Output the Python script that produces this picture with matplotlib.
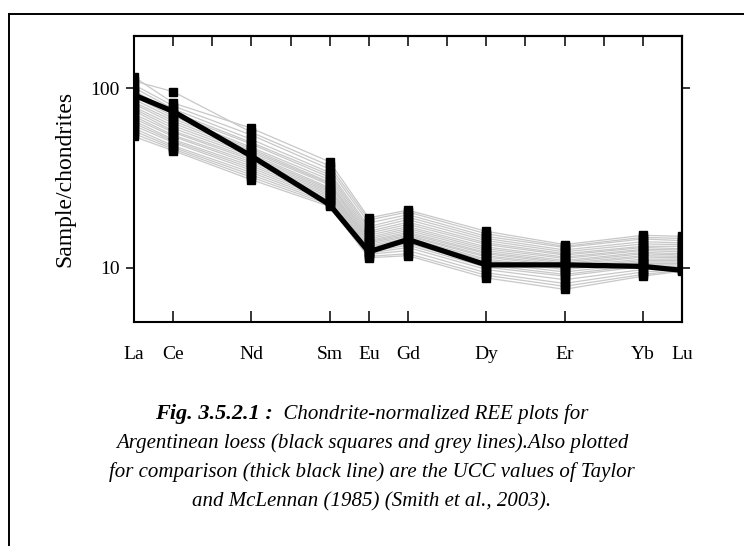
import matplotlib

matplotlib.use("Agg")
import matplotlib.pyplot as plt
import numpy as np
from matplotlib.lines import Line2D


# full REE series sets the x spacing; only some are analysed
REE_SERIES = ["La", "Ce", "Pr", "Nd", "Pm", "Sm", "Eu", "Gd", "Tb", "Dy", "Ho", "Er", "Tm", "Yb", "Lu"]
ELEMENTS = ["La", "Ce", "Nd", "Sm", "Eu", "Gd", "Dy", "Er", "Yb", "Lu"]

# UCC (Taylor & McLennan 1985), chondrite normalised
UCC = [92, 74.5, 42, 22.5, 12.3, 14.4, 10.4, 10.4, 10.2, 9.7]

# Argentinean loess samples, chondrite normalised
LOESS_SAMPLES = [
    [116, 83, 60, 39, 19.0, 21.0, 16.0, 13.5, 15.2, 15.0],
    [110, 96, 57, 37, 18.5, 20.5, 15.5, 13.2, 14.8, 14.6],
    [105, 80, 55, 35.5, 17.8, 19.8, 15.0, 13.0, 14.5, 14.2],
    [101, 77, 52, 34, 17.0, 19.2, 14.6, 12.6, 14.0, 13.8],
    [97, 74, 50, 33, 16.5, 18.6, 14.2, 12.3, 13.6, 13.5],
    [94, 72, 49, 32, 16.0, 18.0, 13.8, 12.0, 13.2, 13.2],
    [90, 70, 47, 31, 15.6, 17.5, 13.5, 11.8, 13.0, 12.8],
    [87, 68, 46, 30, 15.2, 17.0, 13.1, 11.5, 12.7, 12.6],
    [84, 66, 45, 29.5, 14.8, 16.6, 12.8, 11.3, 12.5, 12.3],
    [82, 64, 44, 29, 14.5, 16.2, 12.5, 11.0, 12.2, 12.0],
    [79, 62, 43, 28, 14.2, 15.8, 12.2, 10.8, 12.0, 11.8],
    [77, 60, 42, 27.5, 14.0, 15.5, 12.0, 10.6, 11.7, 11.6],
    [75, 58, 41, 27, 13.8, 15.2, 11.7, 10.4, 11.5, 11.4],
    [72, 57, 40, 26.5, 13.5, 15.0, 11.5, 10.2, 11.2, 11.2],
    [70, 55, 39, 26, 13.2, 14.7, 11.2, 10.0, 11.0, 11.0],
    [68, 54, 38, 25.5, 13.0, 14.4, 11.0, 9.8, 10.8, 10.8],
    [66, 52, 37, 25, 12.8, 14.0, 10.7, 9.5, 10.6, 10.6],
    [64, 51, 36, 24.5, 12.5, 13.7, 10.4, 9.2, 10.4, 10.4],
    [62, 50, 35, 24, 12.3, 13.4, 10.1, 9.0, 10.2, 10.2],
    [60, 48, 34, 23.5, 12.1, 13.0, 9.8, 8.6, 9.8, 10.0],
    [58, 47, 33, 23, 11.9, 12.5, 9.4, 8.2, 9.5, 9.8],
    [56, 46, 32, 22.5, 11.6, 12.0, 9.1, 7.9, 9.2, 9.7],
    [54, 45, 31, 22, 11.4, 11.7, 8.8, 7.6, 9.0, 9.6],
]

Y_TICKS = [10, 100]

CAPTION_HEAD = "Fig. 3.5.2.1 :"
CAPTION_LINES = [
    "Chondrite-normalized REE plots for",
    "Argentinean loess (black squares and grey lines).Also plotted",
    "for comparison (thick black line) are the UCC values of Taylor",
    "and McLennan (1985) (Smith et al., 2003).",
]


def apply_plot_style() -> None:
    plt.rcParams.update(
        {
            "font.family": "serif",
            "font.serif": ["Liberation Serif", "DejaVu Serif"],
            "font.size": 14,
            "axes.linewidth": 1.5,
        }
    )


def draw_chart(ax: plt.Axes) -> None:
    x = np.array([REE_SERIES.index(el) for el in ELEMENTS], dtype=float)
    samples = np.array(LOESS_SAMPLES, dtype=float)

    for row in samples:
        ax.plot(x, row, color="#c8c8c8", lw=0.9, zorder=2)
    for row in samples:
        ax.plot(x, row, ls="none", marker="s", ms=5.2, color="black", mec="black", zorder=3)
    ax.plot(x, UCC, color="black", lw=3.8, solid_joinstyle="miter", zorder=4)

    ax.set_yscale("log")
    ax.set_xlim(0, len(REE_SERIES) - 1)
    ax.set_ylim(5.0, 196)
    ax.set_yticks(Y_TICKS)
    ax.set_yticklabels([str(v) for v in Y_TICKS])
    ax.yaxis.set_minor_locator(matplotlib.ticker.NullLocator())
    ax.set_ylabel("Sample/chondrites", fontsize=17, labelpad=11)

    ax.set_xticks(x)
    ax.set_xticklabels(ELEMENTS)
    ax.tick_params(axis="x", direction="in", length=8, width=1.1, pad=17, labelsize=14)
    ax.tick_params(axis="y", direction="out", length=6, width=1.1, pad=4, labelsize=14)

    top = ax.secondary_xaxis("top")
    top.set_xticks(np.arange(1, len(REE_SERIES) - 1))
    top.tick_params(direction="in", length=7, width=1.1, labeltop=False)

    right = ax.secondary_yaxis("right")
    right.set_yscale("log")
    right.set_yticks(Y_TICKS)
    right.yaxis.set_minor_locator(matplotlib.ticker.NullLocator())
    right.tick_params(direction="out", length=6, width=1.1, labelright=False)


def draw_caption(fig: plt.Figure) -> None:
    line_y = [0.233, 0.180, 0.126, 0.073]
    size = 15
    fig.canvas.draw()
    renderer = fig.canvas.get_renderer()

    head = fig.text(0, line_y[0], CAPTION_HEAD, fontsize=size + 1, style="italic", weight="bold", ha="left", va="baseline")
    rest = fig.text(0, line_y[0], "  " + CAPTION_LINES[0], fontsize=size, style="italic", ha="left", va="baseline")
    w_fig = fig.bbox.width
    hw = head.get_window_extent(renderer).width / w_fig
    rw = rest.get_window_extent(renderer).width / w_fig
    x0 = 0.5 - (hw + rw) / 2
    head.set_x(x0)
    rest.set_x(x0 + hw)

    for text, y in zip(CAPTION_LINES[1:], line_y[1:]):
        fig.text(0.5, y, text, fontsize=size, style="italic", ha="center", va="baseline")


def main() -> None:
    apply_plot_style()
    fig = plt.figure(figsize=(7.44, 5.46), dpi=100)
    ax = fig.add_axes([0.180, 0.4103, 0.7366, 0.5238])
    draw_chart(ax)

    # page frame (top and left edges)
    fig.add_artist(Line2D([0.012, 1.0], [0.974, 0.974], color="black", lw=1.4, transform=fig.transFigure))
    fig.add_artist(Line2D([0.012, 0.012], [0.0, 0.974], color="black", lw=1.4, transform=fig.transFigure))

    draw_caption(fig)
    fig.savefig("out.png", dpi=100)
    plt.close(fig)


if __name__ == "__main__":
    main()
